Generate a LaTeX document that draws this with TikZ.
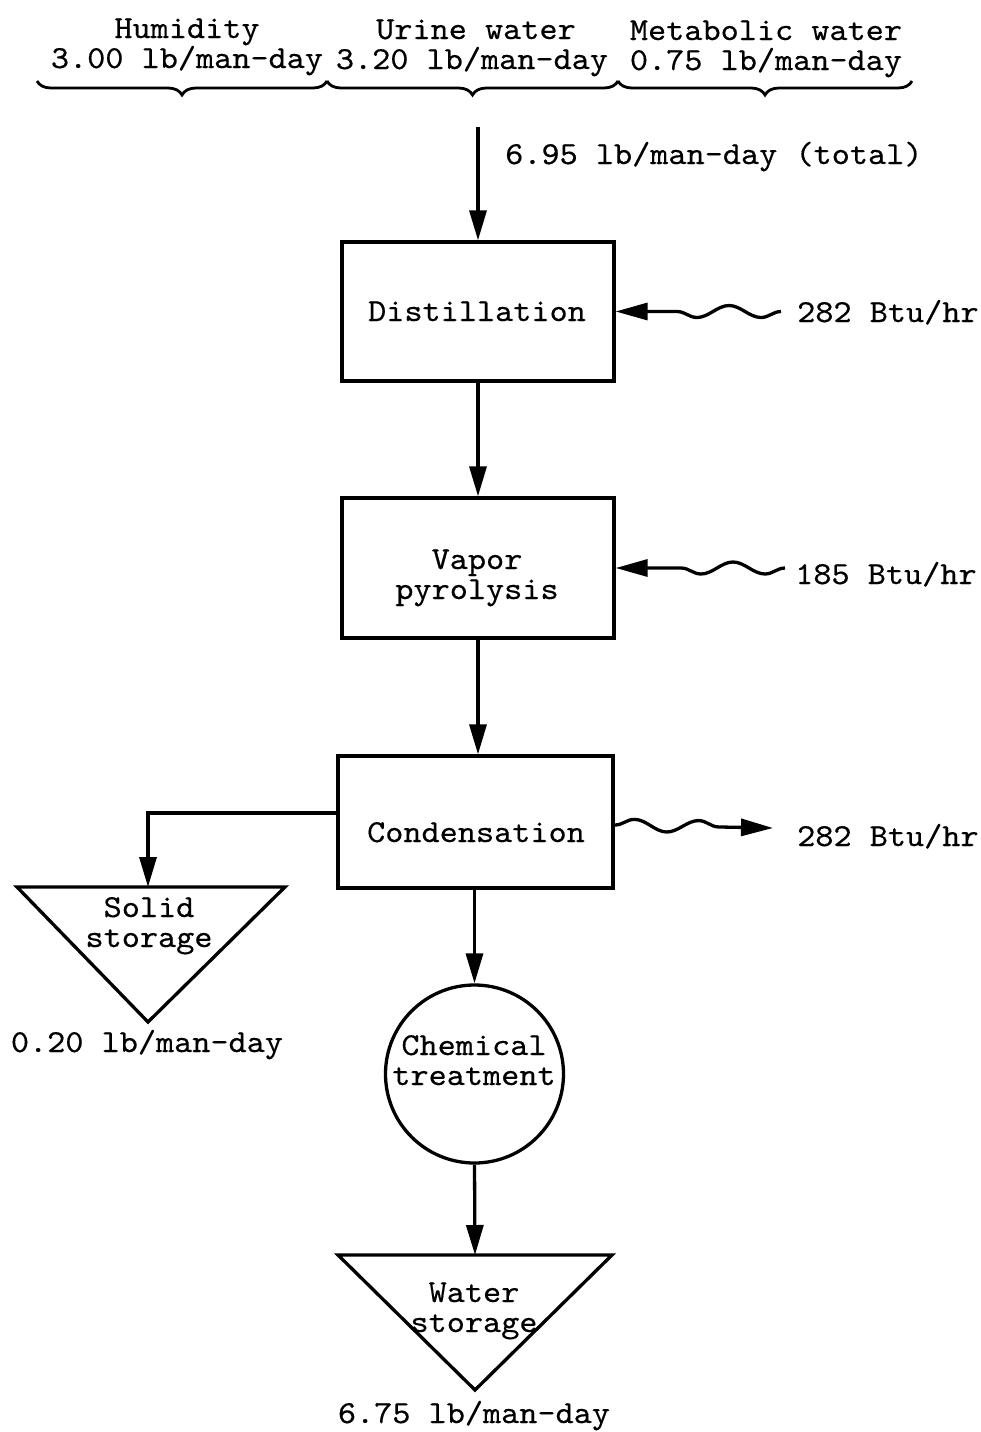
\documentclass[tikz,border=0pt]{standalone}
\usepackage{fontspec}
\newfontfamily\flowfont{lmmono10-regular}[Extension=.otf, FakeStretch=1.08, FakeBold=0.4]
\usetikzlibrary{arrows.meta,decorations.pathreplacing,decorations.pathmorphing}
\begin{document}
\begin{tikzpicture}[x=1pt,y=-1pt,
  every node/.style={font=\flowfont\fontsize{32}{30}\selectfont, inner sep=0pt},
  txt/.style={anchor=base, align=center},
  lbl/.style={anchor=base west},
  procbox/.style={draw, line width=3.3pt, minimum width=272pt, minimum height=139pt},
  tank/.style={line width=3.3pt, line join=miter},
  flow/.style={line width=3.3pt, -{Triangle[length=30pt,width=17pt]}},
  heat/.style={line width=3.3pt, -{Triangle[length=32pt,width=17pt]},
    decorate, decoration={snake, amplitude=6pt, segment length=64pt, post length=34pt}},
  curly/.style={line width=2.8pt, decorate, decoration={brace, mirror, amplitude=14pt}}]
\useasboundingbox (0,0) rectangle (981,1432);

% incoming water streams
\node[txt] (hum) at (187,38) {Humidity};
\node[txt] (humq) at (187,68) {3.00 lb/man-day};
\node[txt] (uri) at (476,39) {Urine water};
\node[txt] (uriq) at (472,69) {3.20 lb/man-day};
\node[txt] (met) at (766,40) {Metabolic water};
\node[txt] (metq) at (766,70) {0.75 lb/man-day};
\draw[curly] (37,81) -- (327,81);
\draw[curly] (327,81) -- (618,81);
\draw[curly] (618,81) -- (912,81);

\coordinate (inlet) at (478,127);
\node[lbl] (total) at (505,164) {6.95 lb/man-day (total)};

% process units
\node[procbox] (dist) at (478,311.5) {};
\node[txt] (distt) at (477,321) {Distillation};
\node[procbox, minimum height=140pt] (vap) at (478,568) {};
\node[txt] (vapt) at (477,599) {Vapor\\pyrolysis};
\node[procbox, minimum width=275pt, minimum height=132pt] (cond) at (475.5,822) {};
\node[txt] (condt) at (476,842) {Condensation};
\node[draw, circle, line width=3.3pt, minimum size=178pt] (chem) at (474.5,1074) {};
\node[txt] (chemt) at (474,1085) {Chemical\\treatment};

% storage tanks
\draw[tank] (17,887) -- (285,887) -- (148,1022) -- cycle;
\coordinate (soltop) at (148,887);
\node[txt] (solt) at (149,947) {Solid\\storage};
\node[txt] (solq) at (147,1052) {0.20 lb/man-day};
\draw[tank] (338,1255) -- (612,1255) -- (475,1390) -- cycle;
\coordinate (wattop) at (475,1255);
\node[txt] (watt) at (474,1332) {Water\\storage};
\node[txt] (watq) at (474,1423) {6.75 lb/man-day};

% heat flows
\coordinate (h1) at (781,311.5);
\node[lbl] (h1t) at (797,322) {282 Btu/hr};
\coordinate (h2) at (785,568);
\node[lbl] (h2t) at (795,584) {185 Btu/hr};
\coordinate (h3) at (773,828);
\node[lbl] (h3t) at (797,846) {282 Btu/hr};

% connectors
\draw[flow] (inlet) -- (dist.north);
\draw[flow] (dist.south) -- (vap.north);
\draw[flow] (vap.south) -- (vap.south |- cond.north);
\draw[flow] ([yshift=9pt]cond.west) -| (soltop);
\draw[flow] (cond.south -| chem.north) -- (chem.north);
\draw[flow] (chem.south) -- (wattop);
\draw[heat] (h1) -- (dist.east);
\draw[heat] (h2) -- (vap.east);
\draw[heat] ([yshift=-3pt]cond.east) -- (h3);
\end{tikzpicture}
\end{document}
